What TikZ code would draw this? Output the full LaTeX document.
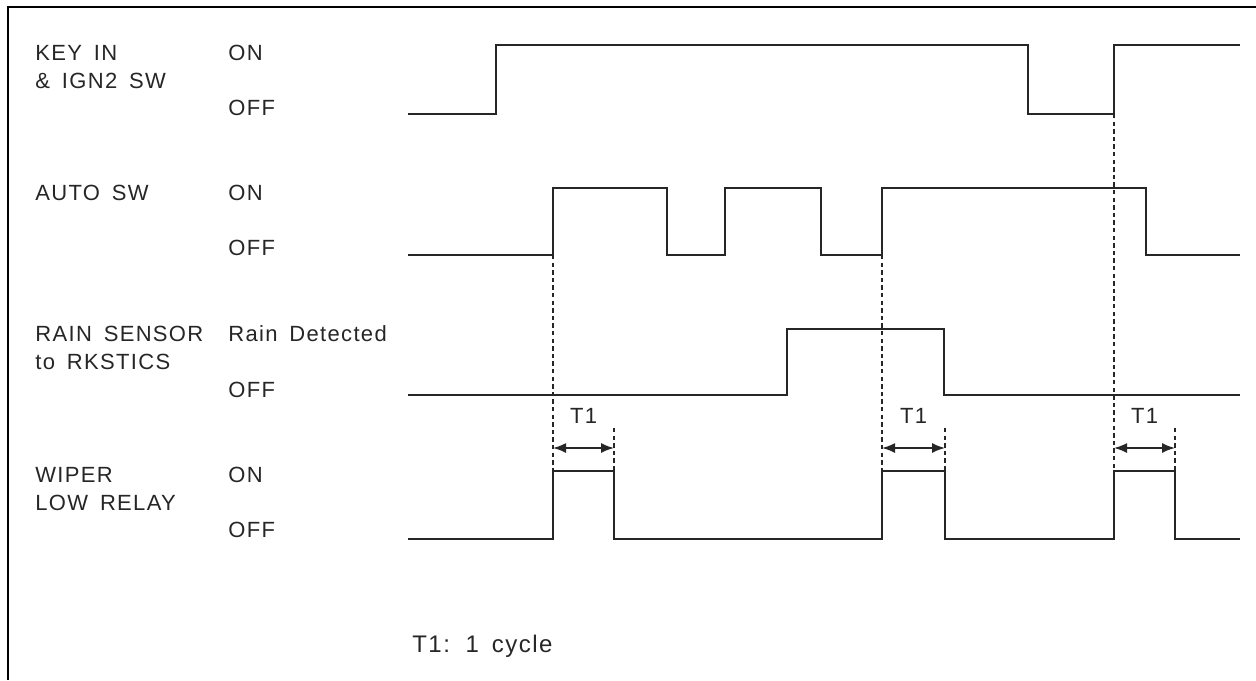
\documentclass[tikz,border=0pt]{standalone}
\usepackage{fontspec}
\setmainfont{Liberation Sans}[LetterSpace=6,WordSpace=1.6]
\usetikzlibrary{arrows.meta,positioning,calc}
\tikzset{
  >={Latex[length=6.5pt,width=5pt]},
  frame/.style={line width=1.4pt},
  sig/.style={line width=1.2pt,black!85},
  guide/.style={line width=0.9pt,black!85,dash pattern=on 2.2pt off 1.6pt},
  span/.style={<->,line width=0.8pt,black!85},
  signame/.style={anchor=base west,inner sep=0pt,text=black!85,
    font=\fontsize{11}{13}\selectfont},
  tlbl/.style={anchor=base,inner sep=0pt,text=black!85,
    font=\fontsize{11}{13}\selectfont},
}

\begin{document}
\begin{tikzpicture}[x=0.5pt,y=-0.5pt]
  \useasboundingbox (0,0) rectangle (1256,680);
  \draw[frame] (8,680) -- (8,7) -- (1256,7);

  % signal names and levels
  \node[signame] (key) at (35,60) {KEY IN};
  \node[signame] (ign) at (35,88) {\& IGN2 SW};
  \node[signame] (keyon) at (228,60) {ON};
  \node[signame] (keyoff) at (228,115) {OFF};
  \node[signame] (auto) at (35,200) {AUTO SW};
  \node[signame] (autoon) at (228,200) {ON};
  \node[signame] (autooff) at (228,255) {OFF};
  \node[signame] (rain) at (35,341) {RAIN SENSOR};
  \node[signame] (rks) at (35,369) {to RKSTICS};
  \node[signame] (rainon) at (228,341) {Rain Detected};
  \node[signame] (rainoff) at (228,397) {OFF};
  \node[signame] (wiper) at (35,482) {WIPER};
  \node[signame] (relay) at (35,510) {LOW RELAY};
  \node[signame] (wiperon) at (228,482) {ON};
  \node[signame] (wiperoff) at (228,537) {OFF};

  % waveforms
  \draw[sig] (408,114) -| (496,45) -| (1028,114) -| (1114,45) -- (1240,45);
  \draw[sig] (408,255) -| (553,188) -| (667,255) -| (725,188) -| (821,255)
    -| (882,188) -| (1146,255) -- (1240,255);
  \draw[sig] (408,395) -| (787,329) -| (944,395) -- (1240,395);
  \draw[sig] (408,539) -| (553,471) -| (614,539) -| (882,471) -| (945,539)
    -| (1114,471) -| (1175,539) -- (1240,539);

  % T1 spans
  \foreach \a/\b/\t [count=\i] in {553/614/255,882/945/255,1114/1175/114}{
    \coordinate (s\i) at (\a,448);
    \coordinate (e\i) at (\b,448);
    \draw[guide] (\a,\t) -- (\a,471);
    \draw[guide] (\b,428) -- (\b,471);
    \draw[span] (s\i) -- (e\i);
    \node[tlbl] (t\i) at ($(s\i)!0.5!(e\i)+(0,-25)$) {T1};
  }

  \node[signame,font=\fontsize{12}{14}\selectfont] (note) at (412,652)
    {T1: 1 cycle};
\end{tikzpicture}
\end{document}
